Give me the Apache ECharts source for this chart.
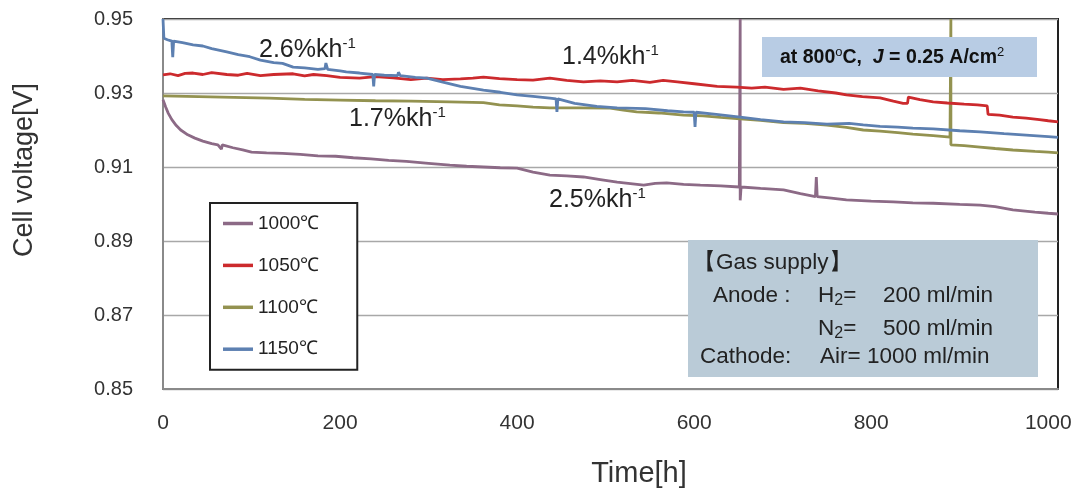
<!DOCTYPE html>
<html>
<head>
<meta charset="utf-8">
<script src="https://cdn.jsdelivr.net/npm/echarts@6/dist/echarts.min.js"></script>
<style>
  html, body { margin: 0; padding: 0; background: #fff; }
  #main { width: 1078px; height: 496px; }
</style>
</head>
<body>
<div id="main"></div>
<script>
// [hours, volts]
const s1000 = [[0,0.9282],[3,0.9262],[6,0.9245],[10,0.9228],[15,0.9212],[20,0.9200],[28,0.9187],[36,0.9178],[45,0.9170],[55,0.9163],[62,0.9160],[66,0.9148],[67,0.9160],[79,0.9152],[90,0.9146],[100,0.9140],[117,0.9138],[135,0.9137],[155,0.9134],[175,0.9130],[195,0.9129],[215,0.9125],[235,0.9122],[255,0.9118],[275,0.9115],[300,0.9110],[324,0.9105],[343,0.9102],[362,0.9100],[381,0.9098],[400,0.9097],[418,0.9086],[437,0.9078],[456,0.9076],[475,0.9073],[494,0.9066],[513,0.9059],[528,0.9055],[543,0.9051],[556,0.9056],[569,0.9057],[588,0.9053],[607,0.9051],[630,0.9049],[651,0.9046],[652,0.9500],[652,0.9010],[653,0.9046],[675,0.9042],[701,0.9038],[720,0.9028],[737,0.9020],[738,0.9073],[739,0.9020],[755,0.9016],[772,0.9011],[800,0.9008],[825,0.9006],[847,0.9003],[870,0.9002],[900,0.8999],[923,0.8997],[940,0.8993],[960,0.8984],[985,0.8978],[1000,0.8975],[1011,0.8973]];
const s1050 = [[0,0.9349],[8,0.9352],[17,0.9347],[25,0.9353],[34,0.9354],[45,0.9350],[55,0.9355],[72,0.9350],[85,0.9348],[95,0.9353],[110,0.9347],[125,0.9350],[147,0.9352],[160,0.9346],[170,0.9350],[185,0.9347],[200,0.9342],[222,0.9340],[240,0.9344],[260,0.9341],[280,0.9336],[298,0.9340],[316,0.9336],[336,0.9338],[350,0.9340],[362,0.9343],[380,0.9339],[400,0.9336],[418,0.9335],[437,0.9340],[456,0.9334],[475,0.9330],[494,0.9333],[513,0.9330],[530,0.9334],[550,0.9329],[565,0.9334],[581,0.9330],[600,0.9325],[626,0.9318],[648,0.9316],[665,0.9313],[680,0.9316],[701,0.9310],[720,0.9313],[740,0.9306],[760,0.9300],[772,0.9295],[790,0.9290],[810,0.9287],[825,0.9278],[836,0.9272],[841,0.9272],[842,0.9289],[855,0.9282],[870,0.9276],[886,0.9273],[905,0.9270],[920,0.9268],[931,0.9265],[932,0.9242],[945,0.9240],[960,0.9235],[975,0.9232],[990,0.9228],[1000,0.9225],[1011,0.9222]];
const s1100 = [[0,0.9292],[40,0.9290],[80,0.9288],[120,0.9286],[160,0.9283],[200,0.9281],[240,0.9279],[280,0.9278],[324,0.9276],[362,0.9274],[380,0.9268],[400,0.9265],[418,0.9262],[437,0.9260],[470,0.9260],[505,0.9259],[520,0.9254],[535,0.9249],[560,0.9246],[588,0.9240],[610,0.9238],[630,0.9234],[652,0.9230],[675,0.9226],[701,0.9220],[725,0.9218],[750,0.9213],[772,0.9207],[791,0.9200],[810,0.9197],[830,0.9193],[847,0.9189],[870,0.9185],[889,0.9181],[890,0.9500],[890,0.9160],[905,0.9158],[923,0.9154],[940,0.9150],[960,0.9146],[985,0.9142],[1000,0.9140],[1011,0.9138]];
const s1150 = [[0,0.9500],[1,0.9448],[5,0.9444],[10,0.9440],[11,0.9397],[12,0.9440],[22,0.9436],[34,0.9430],[45,0.9427],[55,0.9420],[72,0.9411],[85,0.9404],[98,0.9398],[110,0.9389],[125,0.9382],[135,0.9380],[147,0.9370],[160,0.9368],[175,0.9364],[183,0.9366],[184,0.9381],[186,0.9364],[200,0.9360],[207,0.9357],[222,0.9354],[237,0.9350],[238,0.9318],[239,0.9350],[250,0.9348],[265,0.9347],[266,0.9356],[268,0.9347],[285,0.9342],[298,0.9340],[315,0.9330],[336,0.9318],[362,0.9308],[381,0.9302],[400,0.9295],[418,0.9291],[437,0.9286],[444,0.9284],[445,0.9249],[446,0.9284],[465,0.9272],[490,0.9264],[513,0.9260],[545,0.9258],[570,0.9252],[588,0.9249],[600,0.9248],[601,0.9208],[602,0.9248],[625,0.9242],[652,0.9235],[675,0.9228],[701,0.9222],[725,0.9220],[750,0.9216],[775,0.9218],[791,0.9214],[810,0.9210],[830,0.9208],[847,0.9205],[870,0.9203],[900,0.9198],[923,0.9195],[950,0.9190],[975,0.9186],[1000,0.9182],[1011,0.9180]];

const seriesNames = ['1000℃', '1050℃', '1100℃', '1150℃'];
const seriesColors = ['#8c6a86', '#cc2a2d', '#939250', '#5d80b1'];
const seriesData = [s1000, s1050, s1100, s1150];

const font = "'Liberation Sans', Arial, sans-serif";
const chart = echarts.init(document.getElementById('main'));

const slope = (text, x, y) => ({
  type: 'text', x: x, y: y, z: 50,
  style: {
    text: '{b|' + text + '}{s|-1}',
    rich: {
      b: { fontSize: 25, fontFamily: font, fill: '#222', lineHeight: 28 },
      s: { fontSize: 15, fontFamily: font, fill: '#222', verticalAlign: 'top', lineHeight: 15 }
    },
    textVerticalAlign: 'middle'
  }
});

const gasText = (text, x, y) => ({
  type: 'text', x: x, y: y, z: 101,
  style: {
    text: text,
    rich: {
      t: { fontSize: 22.5, fontFamily: font, fill: '#222', lineHeight: 26 },
      sub: { fontSize: 16, fontFamily: font, fill: '#222', verticalAlign: 'bottom', lineHeight: 20 }
    },
    textVerticalAlign: 'middle'
  }
});

chart.setOption({
  animation: false,
  grid: {
    left: 163, right: 20, top: 19, bottom: 107,
    show: true, borderColor: '#222', borderWidth: 2, backgroundColor: '#fff'
  },
  legend: {
    left: 210, top: 203,
    orient: 'vertical',
    backgroundColor: '#fff',
    borderColor: '#222', borderWidth: 2,
    padding: [11, 38, 11, 13],
    icon: 'rect',
    itemWidth: 30, itemHeight: 3.5, itemGap: 22.9,
    textStyle: { fontSize: 19, fontFamily: font, color: '#222', lineHeight: 17 },
    data: seriesNames
  },
  xAxis: {
    type: 'value', min: 0, max: 1011, interval: 200,
    axisLine: { show: true, lineStyle: { color: '#8a8a8a', width: 2 } },
    axisTick: { show: false },
    splitLine: { show: false },
    axisLabel: {
      fontSize: 21, fontFamily: font, color: '#333', margin: 24,
      formatter: v => (v % 200 === 0 ? String(v) : '')
    }
  },
  yAxis: {
    type: 'value', min: 0.85, max: 0.95, interval: 0.02,
    axisLine: { show: true, lineStyle: { color: '#8a8a8a', width: 2 } },
    axisTick: { show: false },
    splitLine: { show: true, lineStyle: { color: '#a8a8a8', width: 1.3 } },
    axisLabel: {
      fontSize: 20, fontFamily: font, color: '#333', margin: 30,
      formatter: v => v.toFixed(2)
    }
  },
  series: seriesData.map((d, i) => ({
    name: seriesNames[i],
    type: 'line',
    data: d,
    symbol: 'none',
    color: seriesColors[i],
    lineStyle: { width: 2.8, color: seriesColors[i] },
    z: 2 + (i === 2 ? 0 : i)
  })),
  graphic: [
    {
      type: 'text', x: 25, y: 170, rotation: Math.PI / 2, z: 50,
      style: { text: 'Cell voltage[V]', fontSize: 27, fontFamily: font, fill: '#333', textAlign: 'center', textVerticalAlign: 'middle' }
    },
    {
      type: 'text', x: 639, y: 474, z: 50,
      style: { text: 'Time[h]', fontSize: 29, fontFamily: font, fill: '#333', textAlign: 'center', textVerticalAlign: 'middle' }
    },
    slope('2.6%kh', 259, 50),
    slope('1.4%kh', 562, 57),
    slope('1.7%kh', 349, 119),
    slope('2.5%kh', 549, 200),
    {
      type: 'rect', z: 100,
      shape: { x: 762, y: 37, width: 275, height: 40 },
      style: { fill: '#b8cce4' }
    },
    {
      type: 'text', x: 780, y: 58, z: 101,
      style: {
        text: '{b|at 800}{s|o}{b|C,  }{i|J}{b| = 0.25 A/cm}{s|2}',
        rich: {
          b: { fontSize: 19.5, fontWeight: 'bold', fontFamily: font, fill: '#111', lineHeight: 24 },
          i: { fontSize: 19.5, fontWeight: 'bold', fontStyle: 'italic', fontFamily: font, fill: '#111', lineHeight: 24 },
          s: { fontSize: 13, fontFamily: font, fill: '#111', verticalAlign: 'top', lineHeight: 13 }
        },
        textVerticalAlign: 'middle'
      }
    },
    {
      type: 'rect', z: 100,
      shape: { x: 688, y: 240, width: 350, height: 137 },
      style: { fill: '#bacbd7' }
    },
    gasText('{t|【Gas supply】}', 693, 263),
    gasText('{t|Anode :}', 713, 296),
    gasText('{t|H}{sub|2}{t|=}', 818, 296),
    gasText('{t|200 ml/min}', 883, 296),
    gasText('{t|N}{sub|2}{t|=}', 818, 329),
    gasText('{t|500 ml/min}', 883, 329),
    gasText('{t|Cathode:}', 700, 357),
    gasText('{t|Air= 1000 ml/min}', 820, 357)
  ]
});
</script>
</body>
</html>
